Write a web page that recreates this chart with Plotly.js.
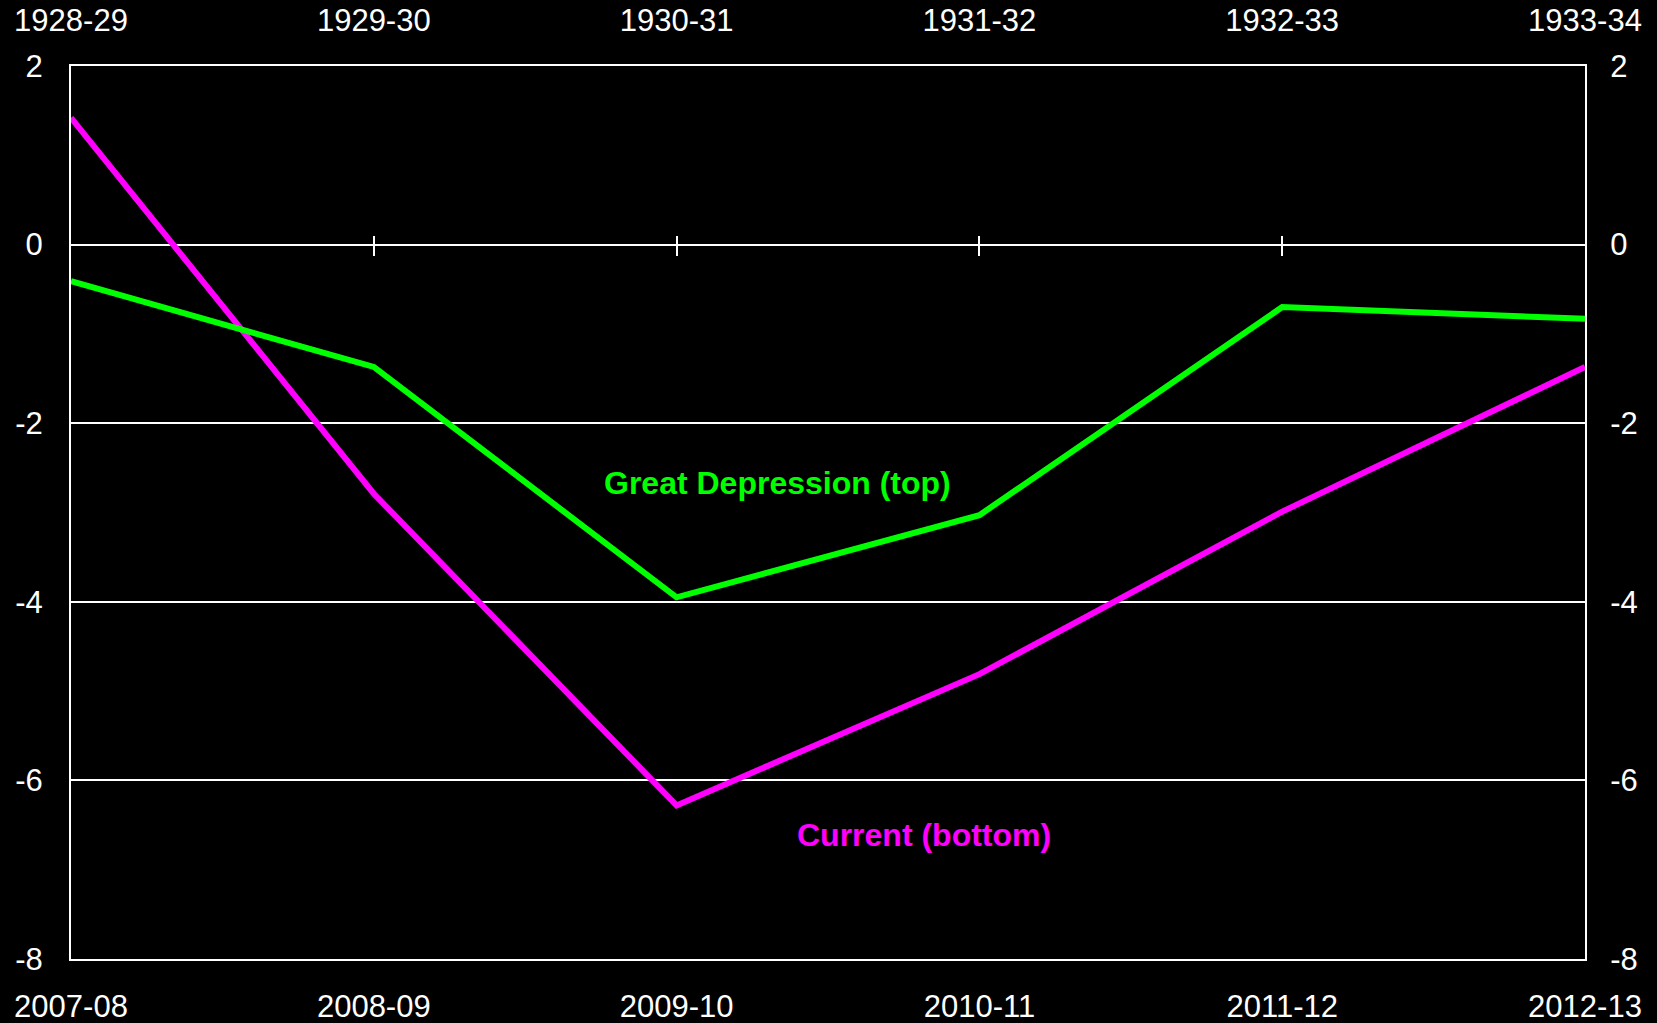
<!DOCTYPE html>
<html>
<head>
<meta charset="utf-8">
<script src="https://cdn.plot.ly/plotly-3.0.1.min.js"></script>
<style>
html,body{margin:0;padding:0;background:#000;}
#chart{width:1657px;height:1023px;}
</style>
</head>
<body>
<div id="chart"></div>
<script>
// Bottom axis (current period) categories
const currentYears = ["2007-08", "2008-09", "2009-10", "2010-11", "2011-12", "2012-13"];
// Top axis (Great Depression) categories
const depressionYears = ["1928-29", "1929-30", "1930-31", "1931-32", "1932-33", "1933-34"];
// Series values
const currentValues = [1.42, -2.79, -6.28, -4.81, -2.99, -1.37];
const depressionValues = [-0.41, -1.37, -3.95, -3.03, -0.70, -0.83];
// Y ticks
const yTicks = [-8, -6, -4, -2, 0, 2];
const yTickText = ["-8", "-6", "-4", "-2", "0", "2"];

const FONT = "Liberation Sans, Arial, sans-serif";
const GREEN = "#00FF00";
const MAGENTA = "#FF00FF";

const idx = currentYears.map((c, i) => i);
const interiorIdx = idx.slice(1, currentYears.length - 1);

const traces = [
  {
    x: currentYears, y: currentValues, xaxis: "x", yaxis: "y",
    type: "scatter", mode: "lines", name: "Current (bottom)",
    line: {color: MAGENTA, width: 6}, hoverinfo: "skip"
  },
  {
    x: depressionYears, y: depressionValues, xaxis: "x2", yaxis: "y",
    type: "scatter", mode: "lines", name: "Great Depression (top)",
    line: {color: GREEN, width: 6}, hoverinfo: "skip"
  },
  // invisible helpers so the right axis and the zero-line tick axis are drawn
  {
    x: currentYears, y: currentValues, xaxis: "x", yaxis: "y2",
    type: "scatter", mode: "lines", opacity: 0,
    line: {color: MAGENTA, width: 1}, hoverinfo: "skip", showlegend: false
  },
  {
    x: idx, y: currentValues, xaxis: "x3", yaxis: "y",
    type: "scatter", mode: "lines", opacity: 0,
    line: {color: MAGENTA, width: 1}, hoverinfo: "skip", showlegend: false
  }
];

const baseX = {
  type: "category", range: [0, currentYears.length - 1],
  showgrid: false, zeroline: false, fixedrange: true
};

const layout = {
  width: 1657, height: 1023,
  margin: {l: 71, r: 72, t: 66, b: 64, pad: 0},
  paper_bgcolor: "#000", plot_bgcolor: "#000",
  showlegend: false,
  font: {family: FONT, color: "#fff", size: 31},
  xaxis: Object.assign({}, baseX, {
    categoryorder: "array", categoryarray: currentYears,
    side: "bottom", anchor: "y",
    showline: true, linecolor: "#fff", linewidth: 2,
    ticks: "", ticklabelstandoff: 19,
    tickfont: {family: FONT, size: 31, color: "#fff"}
  }),
  xaxis2: Object.assign({}, baseX, {
    categoryorder: "array", categoryarray: depressionYears,
    side: "top", anchor: "y", overlaying: "x",
    showline: true, linecolor: "#fff", linewidth: 2,
    ticks: "", ticklabelstandoff: 21,
    tickfont: {family: FONT, size: 31, color: "#fff"}
  }),
  xaxis3: {
    type: "linear", range: [0, currentYears.length - 1],
    overlaying: "x", anchor: "free", position: 0.8 + 10 / 893, side: "bottom",
    tickmode: "array", tickvals: interiorIdx,
    ticks: "outside", ticklen: 20, tickwidth: 2, tickcolor: "#fff",
    showticklabels: false, showline: false, showgrid: false, zeroline: false,
    fixedrange: true
  },
  yaxis: {
    range: [-8, 2], tickmode: "array", tickvals: yTicks, ticktext: yTickText,
    showgrid: true, gridcolor: "#fff", gridwidth: 2,
    zeroline: false, showline: true, linecolor: "#fff", linewidth: 2,
    ticks: "", ticklabelstandoff: 20, side: "left",
    tickfont: {family: FONT, size: 31, color: "#fff"}, fixedrange: true
  },
  yaxis2: {
    range: [-8, 2], tickmode: "array", tickvals: yTicks, ticktext: yTickText,
    overlaying: "y", side: "right", anchor: "x",
    showgrid: false, zeroline: false, showline: true, linecolor: "#fff", linewidth: 2,
    ticks: "", ticklabelstandoff: 17,
    tickfont: {family: FONT, size: 31, color: "#fff"}, fixedrange: true
  },
  annotations: [
    {
      text: "<b>Great Depression (top)</b>", xref: "paper", yref: "paper",
      x: 0.4667, y: 0.533, xanchor: "center", yanchor: "middle", showarrow: false,
      font: {family: FONT, size: 32, color: GREEN}
    },
    {
      text: "<b>Current (bottom)</b>", xref: "paper", yref: "paper",
      x: 0.5634, y: 0.139, xanchor: "center", yanchor: "middle", showarrow: false,
      font: {family: FONT, size: 32, color: MAGENTA}
    }
  ]
};

Plotly.newPlot("chart", traces, layout, {staticPlot: true, displayModeBar: false});
</script>
</body>
</html>
